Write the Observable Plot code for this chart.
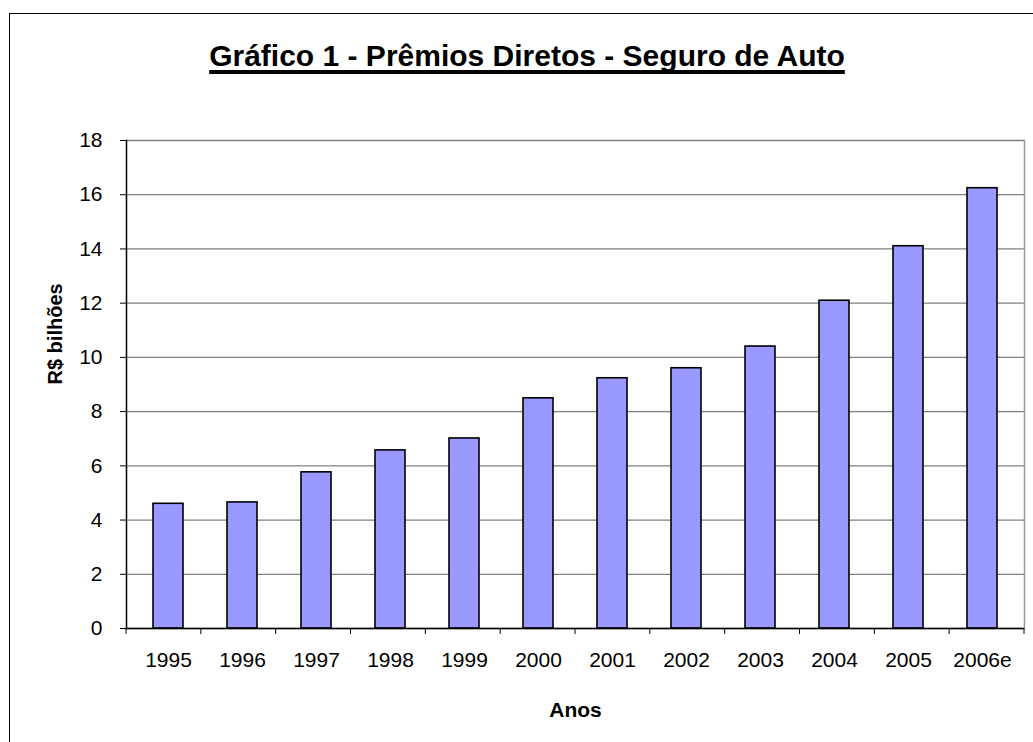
<!DOCTYPE html>
<html>
<head>
<meta charset="utf-8">
<script src="https://cdn.jsdelivr.net/npm/d3@7"></script>
<script src="https://cdn.jsdelivr.net/npm/@observablehq/plot@0.6"></script>
<style>
  html, body { margin: 0; padding: 0; background: #fff; overflow: hidden; width: 1033px; height: 742px; }
  #frame { position: absolute; left: 9px; top: 13px; width: 1100px; height: 800px; border: 1.5px solid #000; box-sizing: border-box; }
  #title { position: absolute; left: 0; width: 1054px; top: 39px; text-align: center; font-family: "Liberation Sans", Arial, sans-serif; font-weight: bold; font-size: 30px; line-height: 34px; text-decoration: underline; text-decoration-thickness: 4px; text-underline-offset: 4px; text-decoration-skip-ink: none; color: #000; }
  #chart { position: absolute; left: 0; top: 0; }
</style>
</head>
<body>
<div id="frame"></div>
<div id="title">Gráfico 1 - Prêmios Diretos - Seguro de Auto</div>
<div id="chart"></div>
<script>
const years = ["1995","1996","1997","1998","1999","2000","2001","2002","2003","2004","2005","2006e"];
const premios = [4.6, 4.65, 5.76, 6.57, 7.01, 8.49, 9.23, 9.6, 10.4, 12.09, 14.1, 16.24];
const yTicks = [0, 2, 4, 6, 8, 10, 12, 14, 16, 18];
const xLabel = "Anos";
const yLabel = "R$ bilhões";

const data = years.map((y, i) => ({year: y, value: premios[i]}));

// category boundary ticks on the x axis (Excel style)
function boundaryTicks(index, scales, values, dims) {
  const g = d3.create("svg:g");
  const x0 = dims.marginLeft, x1 = dims.width - dims.marginRight;
  const n = years.length;
  const step = (x1 - x0) / n;
  const y0 = scales.y(0);
  for (let i = 0; i <= n; i++) {
    const x = x0 + i * step;
    g.append("line").attr("x1", x).attr("x2", x).attr("y1", y0).attr("y2", y0 + 6)
      .attr("stroke", "#000").attr("stroke-width", 1);
  }
  return g.node();
}

const chart = Plot.plot({
  width: 1033,
  height: 742,
  marginLeft: 126,
  marginRight: 9,
  marginTop: 140,
  marginBottom: 114,
  style: { fontFamily: "Liberation Sans, Arial, sans-serif", fontSize: "21px", background: "transparent", overflow: "visible" },
  x: { type: "band", domain: years, paddingInner: 0.6, paddingOuter: 0.3, align: 0.5, label: null },
  y: { domain: [0, 18], label: null },
  marks: [
    Plot.ruleY(yTicks, { stroke: "#808080", strokeWidth: 1.3 }),
    Plot.frame({ anchor: "right", stroke: "#999999", strokeWidth: 1.5 }),
    Plot.barY(data, { x: "year", y: "value", fill: "#9999FF", stroke: "#000", strokeWidth: 1.6 }),
    Plot.frame({ anchor: "left", stroke: "#000", strokeWidth: 1.5 }),
    Plot.ruleY([0], { stroke: "#000", strokeWidth: 1.5 }),
    Plot.axisY(yTicks, { tickSize: 6, tickPadding: 18, fontSize: 21, fill: "#000", stroke: "#000", tickFormat: d => d }),
    Plot.axisX({ tickSize: 0, tickPadding: 24, fontSize: 21, fill: "#000" }),
    boundaryTicks,
    Plot.text([xLabel], { frameAnchor: "bottom", lineAnchor: "middle", dy: 82, fontWeight: "bold", fontSize: 21, fill: "#000" }),
    Plot.text([yLabel], { frameAnchor: "left", lineAnchor: "middle", dx: -71, rotate: -90, fontWeight: "bold", fontSize: 20, fill: "#000" })
  ]
});
document.getElementById("chart").appendChild(chart);
</script>
</body>
</html>
